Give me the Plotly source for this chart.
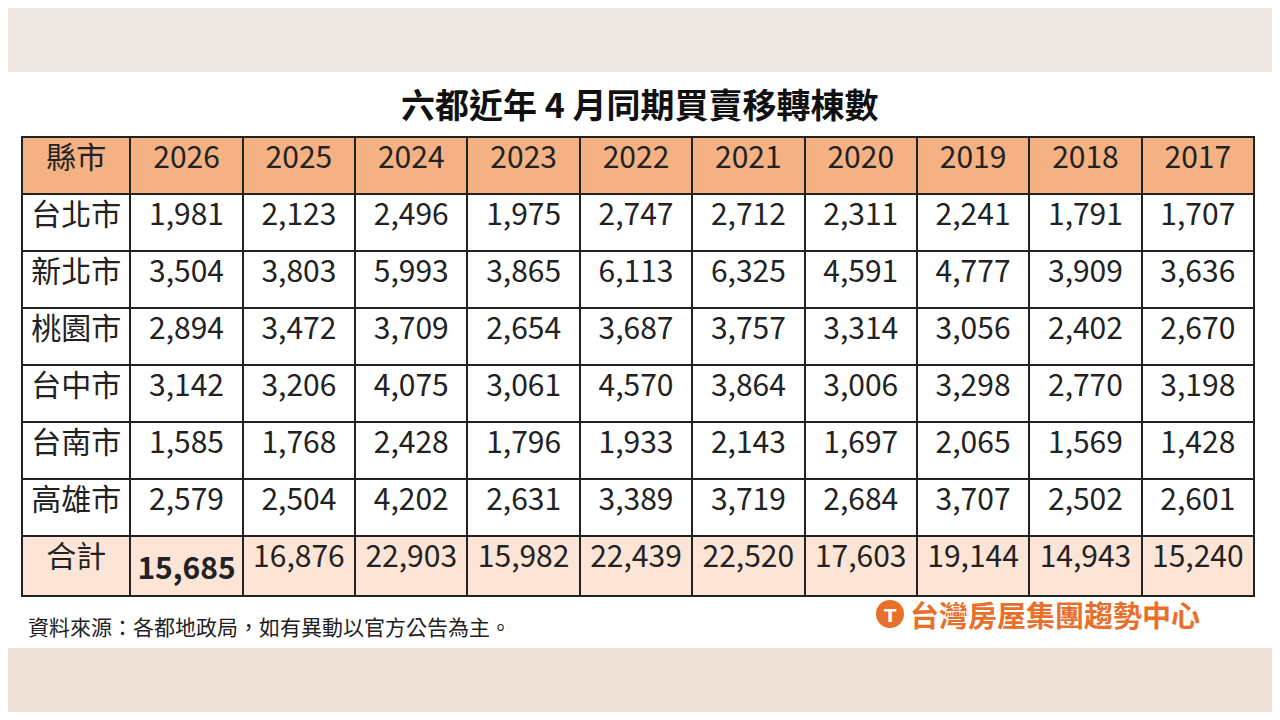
import plotly.graph_objects as go

title = "六都近年 4 月同期買賣移轉棟數"
years = ["2026", "2025", "2024", "2023", "2022", "2021", "2020", "2019", "2018", "2017"]
cities = ["台北市", "新北市", "桃園市", "台中市", "台南市", "高雄市", "合計"]
taipei = [1981, 2123, 2496, 1975, 2747, 2712, 2311, 2241, 1791, 1707]
new_taipei = [3504, 3803, 5993, 3865, 6113, 6325, 4591, 4777, 3909, 3636]
taoyuan = [2894, 3472, 3709, 2654, 3687, 3757, 3314, 3056, 2402, 2670]
taichung = [3142, 3206, 4075, 3061, 4570, 3864, 3006, 3298, 2770, 3198]
tainan = [1585, 1768, 2428, 1796, 1933, 2143, 1697, 2065, 1569, 1428]
kaohsiung = [2579, 2504, 4202, 2631, 3389, 3719, 2684, 3707, 2502, 2601]
totals = [15685, 16876, 22903, 15982, 22439, 22520, 17603, 19144, 14943, 15240]
source = "資料來源：各都地政局，如有異動以官方公告為主。"
brand = "台灣房屋集團趨勢中心"

# page body has an 8px margin, so work in figure pixels = screen pixels - 8
W, H = 1264, 704
def px(x):
    return (x - 8) / W
def py(y):
    return 1 - (y - 8) / H

rows = [taipei, new_taipei, taoyuan, taichung, tainan, kaohsiung, totals]
columns = [cities]
fills = [["white"] * 6 + ["#FCE4D6"]]
for j in range(len(years)):
    col = []
    for i, r in enumerate(rows):
        s = f"{r[j]:,}"
        if i == 6 and j == 0:
            s = f"<b>{s}</b>"
        col.append(s)
    columns.append(col)
    fills.append(["white"] * 6 + ["#FCE4D6"])

font = "Noto Sans CJK TC"
fig = go.Figure(go.Table(
    domain=dict(x=[px(22), px(1254)], y=[py(598), py(137)]),
    columnwidth=[108] + [112] * 10,
    header=dict(values=["縣市"] + years, fill_color="#F4B183", height=57,
                line=dict(color="#222222", width=2), align="center",
                font=dict(family=font, size=30, color="#222222")),
    cells=dict(values=columns, fill_color=fills, height=57,
               line=dict(color="#222222", width=2), align="center",
               font=dict(family=font, size=30, color="#222222")),
))

fig.add_shape(type="rect", xref="paper", yref="paper", x0=0, x1=1, y0=py(72), y1=1,
              fillcolor="#EFE7E2", line_width=0, layer="below")
fig.add_shape(type="rect", xref="paper", yref="paper", x0=0, x1=1, y0=0, y1=py(648),
              fillcolor="#F0E2D8", line_width=0, layer="below")
fig.add_annotation(text=f"<b>{title}</b>", x=px(640), y=py(103), xref="paper", yref="paper",
                   xanchor="center", yanchor="middle", showarrow=False,
                   font=dict(family=font, size=34, color="#111111"))
fig.add_annotation(text=source, x=px(26), y=py(626), xref="paper", yref="paper",
                   xanchor="left", yanchor="middle", showarrow=False,
                   font=dict(family=font, size=21, color="#222222"))
fig.add_annotation(text=f"<b>{brand}</b>", x=px(908), y=py(614), xref="paper", yref="paper",
                   xanchor="left", yanchor="middle", showarrow=False,
                   font=dict(family=font, size=29, color="#E8702A"))
fig.add_shape(type="circle", xref="paper", yref="paper", x0=px(876), x1=px(904),
              y0=py(628), y1=py(600), fillcolor="#E8702A", line_width=0)
fig.add_annotation(text="<b>T</b>", x=px(890), y=py(615), xref="paper", yref="paper",
                   xanchor="center", yanchor="middle", showarrow=False,
                   font=dict(family="DejaVu Sans", size=18, color="white"))

fig.update_layout(width=W, height=H, margin=dict(l=0, r=0, t=0, b=0),
                  paper_bgcolor="white", plot_bgcolor="white")
fig.write_html("out.html")
